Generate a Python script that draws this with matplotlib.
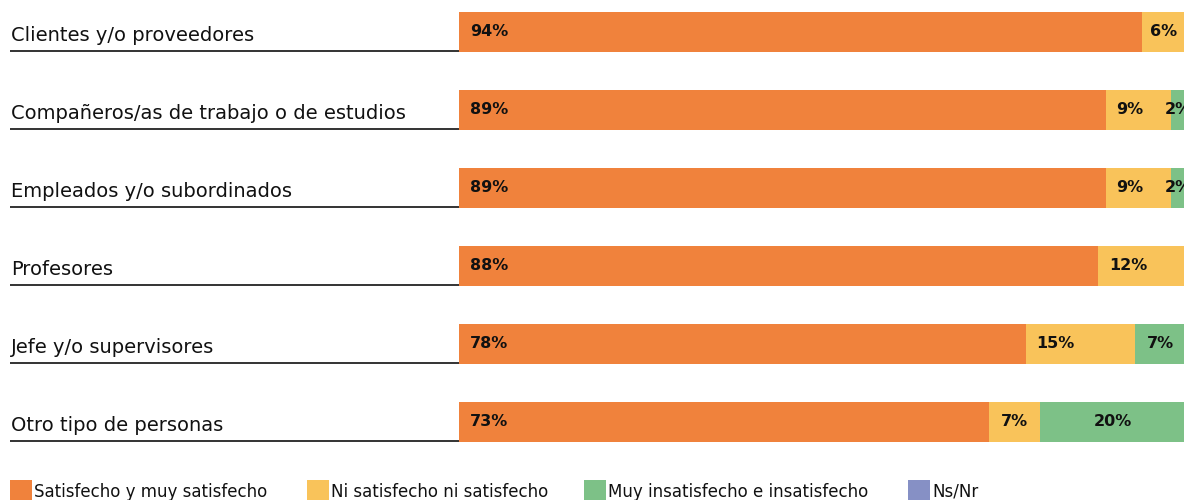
import matplotlib
matplotlib.use("Agg")
import matplotlib.pyplot as plt
from matplotlib.transforms import blended_transform_factory
from matplotlib.patches import Rectangle

categories = ["Clientes y/o proveedores",
              "Compañeros/as de trabajo o de estudios",
              "Empleados y/o subordinados",
              "Profesores",
              "Jefe y/o supervisores",
              "Otro tipo de personas"]
satisfecho = [94, 89, 89, 88, 78, 73]
neutral = [6, 9, 9, 12, 15, 7]
insatisfecho = [0, 2, 2, 0, 7, 20]
nsnr = [0, 0, 0, 0, 0, 0]
series_names = ["Satisfecho y muy satisfecho", "Ni satisfecho ni satisfecho",
                "Muy insatisfecho e insatisfecho", "Ns/Nr"]
colors = ["#F0823C", "#F9C35A", "#7DC187", "#8690C5"]

W, H = 1184, 500
fig = plt.figure(figsize=(W / 100, H / 100), dpi=100)
ax = fig.add_axes([459 / W, 40 / H, 1 - 459 / W, 460 / H])
ax.set_xlim(0, 99.8)
ax.set_ylim((460 - 32) / 78, -32 / 78)
ax.axis("off")

series = [satisfecho, neutral, insatisfecho, nsnr]
ypos = list(range(len(categories)))
left = [0] * len(categories)
for k, vals in enumerate(series):
    ax.barh(ypos, vals, left=left, height=40 / 78, color=colors[k], linewidth=0)
    for i, v in enumerate(vals):
        if v <= 0:
            continue
        if k == 2 or v < 8:
            ax.text(left[i] + v / 2, i, f"{v}%", ha="center", va="center",
                    fontsize=11.5, fontweight="bold", color="#111111", clip_on=False)
        else:
            ax.text(left[i] + 1.5, i, f"{v}%", ha="left", va="center",
                    fontsize=11.5, fontweight="bold", color="#111111", clip_on=False)
    left = [a + b for a, b in zip(left, vals)]

tr = blended_transform_factory(fig.transFigure, ax.transData)
for i, cat in enumerate(categories):
    ax.text(11 / W, i + 9 / 78, cat, transform=tr, ha="left", va="baseline",
            fontsize=14, color="#111111", clip_on=False)
    ax.plot([10 / W, 459 / W], [i + 19 / 78, i + 19 / 78], transform=tr,
            color="#333333", lw=1.4, clip_on=False, solid_capstyle="butt")

# legend along the bottom
leg_x = [10, 307, 584, 908]
for k, name in enumerate(series_names):
    fig.add_artist(Rectangle((leg_x[k] / W, 0), 22 / W, 20 / H,
                             transform=fig.transFigure, color=colors[k], lw=0))
    fig.text((leg_x[k] + 24) / W, 3 / H, name, ha="left", va="baseline",
             fontsize=12, color="#111111")

fig.savefig("out.png", dpi=100)
